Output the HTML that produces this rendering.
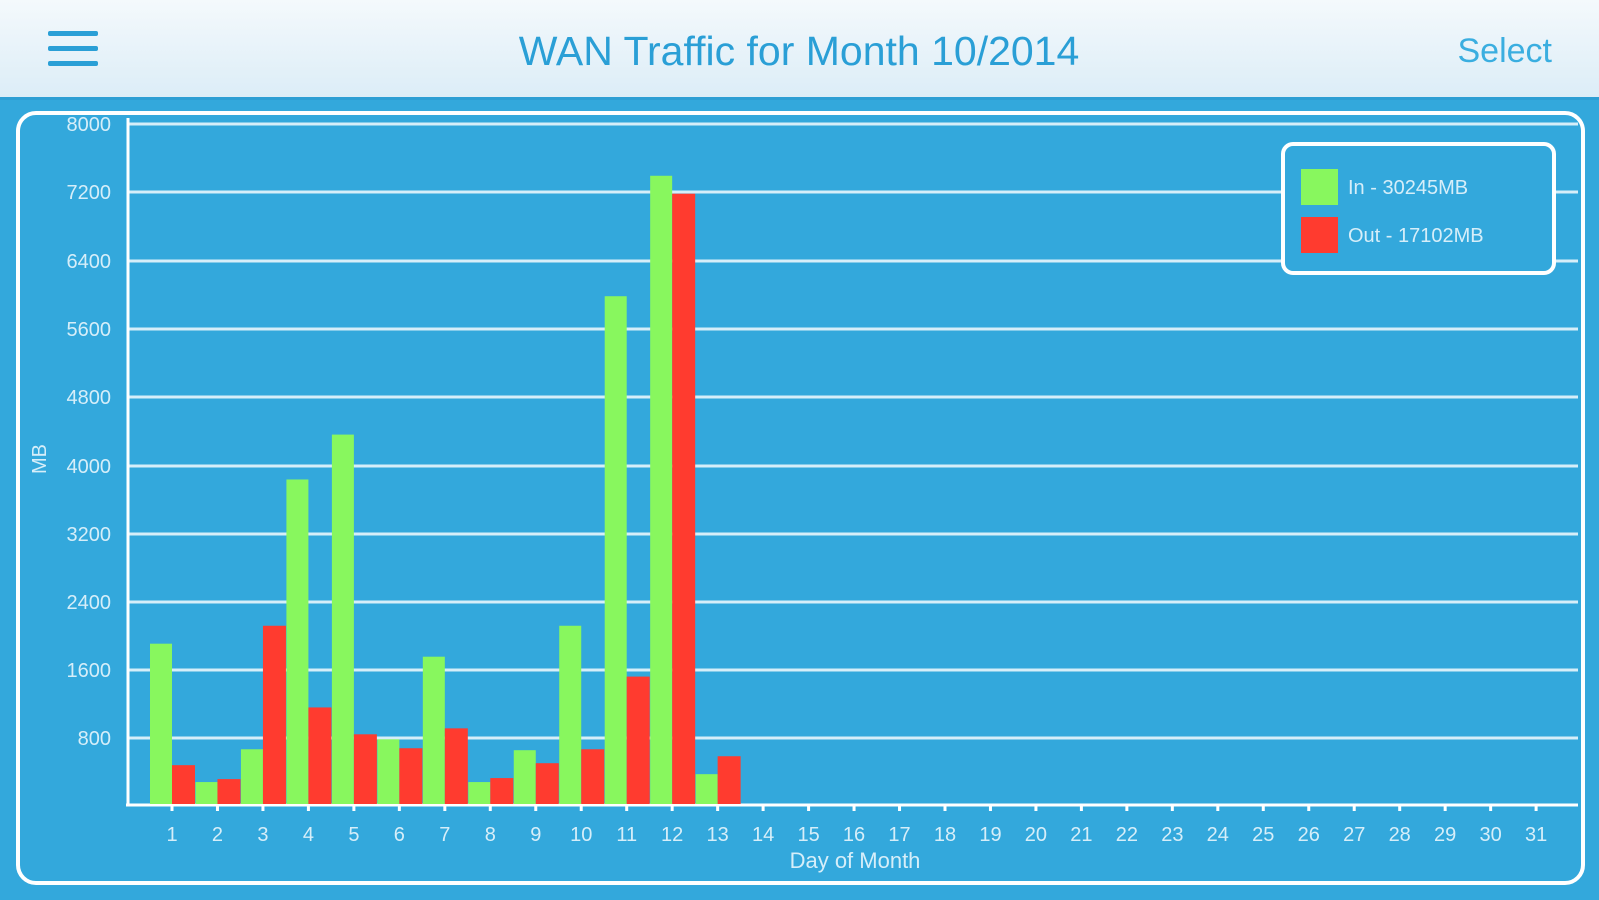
<!DOCTYPE html>
<html><head><meta charset="utf-8"><style>
html,body{margin:0;padding:0;width:1599px;height:900px;overflow:hidden;background:#33a8dc;}
svg{display:block;font-family:"Liberation Sans",sans-serif;}
</style></head><body>
<svg width="1599" height="900" viewBox="0 0 1599 900">
<defs><linearGradient id="hg" x1="0" y1="0" x2="0" y2="1"><stop offset="0" stop-color="#f4f9fc"/><stop offset="1" stop-color="#dcedf7"/></linearGradient></defs>
<rect x="0" y="0" width="1599" height="900" fill="#33a8dc"/>
<rect x="0" y="0" width="1599" height="97" fill="url(#hg)"/>
<rect x="0" y="97" width="1599" height="3" fill="#2d9fd4"/>
<rect x="48" y="31" width="50" height="5" rx="2" fill="#2a9fd6"/>
<rect x="48" y="46" width="50" height="5" rx="2" fill="#2a9fd6"/>
<rect x="48" y="61" width="50" height="5" rx="2" fill="#2a9fd6"/>
<text x="799" y="65" text-anchor="middle" font-size="41" fill="#2a9fd6">WAN Traffic for Month 10/2014</text>
<text x="1552" y="62" text-anchor="end" font-size="34" fill="#3aaee0">Select</text>
<rect x="18" y="113" width="1565" height="770" rx="18" fill="none" stroke="#fff" stroke-width="4"/>
<g stroke="#d6eef9" stroke-width="3">
<line x1="128" y1="124" x2="1578" y2="124"/>
<line x1="128" y1="192" x2="1578" y2="192"/>
<line x1="128" y1="261" x2="1578" y2="261"/>
<line x1="128" y1="329" x2="1578" y2="329"/>
<line x1="128" y1="397" x2="1578" y2="397"/>
<line x1="128" y1="466" x2="1578" y2="466"/>
<line x1="128" y1="534" x2="1578" y2="534"/>
<line x1="128" y1="602" x2="1578" y2="602"/>
<line x1="128" y1="670" x2="1578" y2="670"/>
<line x1="128" y1="738" x2="1578" y2="738"/>
</g>
<line x1="128" y1="118" x2="128" y2="806" stroke="#fff" stroke-width="3"/>
<line x1="126" y1="805" x2="1578" y2="805" stroke="#fff" stroke-width="3"/>
<g font-size="20" fill="#d6eef9" text-anchor="end">
<text x="111" y="131">8000</text><text x="111" y="199">7200</text><text x="111" y="268">6400</text>
<text x="111" y="336">5600</text><text x="111" y="404">4800</text><text x="111" y="473">4000</text>
<text x="111" y="541">3200</text><text x="111" y="609">2400</text><text x="111" y="677">1600</text>
<text x="111" y="745">800</text>
</g>
<text transform="translate(46,459) rotate(-90)" text-anchor="middle" font-size="20" fill="#d6eef9">MB</text>
<g id="bars"></g>
<g id="xl" font-size="20" fill="#d6eef9" text-anchor="middle"></g>
<text x="855" y="868" text-anchor="middle" font-size="22" fill="#d6eef9">Day of Month</text>
<rect x="1283" y="144" width="271" height="129" rx="10" fill="#33a8dc" stroke="#fff" stroke-width="4"/>
<rect x="1301" y="169" width="37" height="36" fill="#88f75e"/>
<rect x="1301" y="217" width="37" height="36" fill="#ff3b2f"/>
<text x="1348" y="194" font-size="20" fill="#d6eef9">In - 30245MB</text>
<text x="1348" y="242" font-size="20" fill="#d6eef9">Out - 17102MB</text>
<script>
var g=[1886,258,644,3818,4346,761,1733,258,633,2097,5974,7391,351];
var r=[457,293,2097,1136,820,656,890,305,480,644,1499,7180,562];
var ns="http://www.w3.org/2000/svg",b=document.getElementById('bars'),xl=document.getElementById('xl');
function R(x,y,w,h,f){var e=document.createElementNS(ns,'rect');e.setAttribute('x',x);e.setAttribute('y',y);e.setAttribute('width',w);e.setAttribute('height',h);e.setAttribute('fill',f);b.appendChild(e);}
var base=804,sc=680/8000;
for(var i=0;i<31;i++){var t=172+i*45.47;
 if(i<13){var hg=g[i]*sc,hr=r[i]*sc;R(t-22,base-hg,22,hg,'#88f75e');R(t,base-hr,23,hr,'#ff3b2f');}
 R(t-1.5,806,3,5,'#fff');
 var tx=document.createElementNS(ns,'text');tx.setAttribute('x',t);tx.setAttribute('y',841);tx.textContent=i+1;xl.appendChild(tx);}
</script>
</svg>
</body></html>
